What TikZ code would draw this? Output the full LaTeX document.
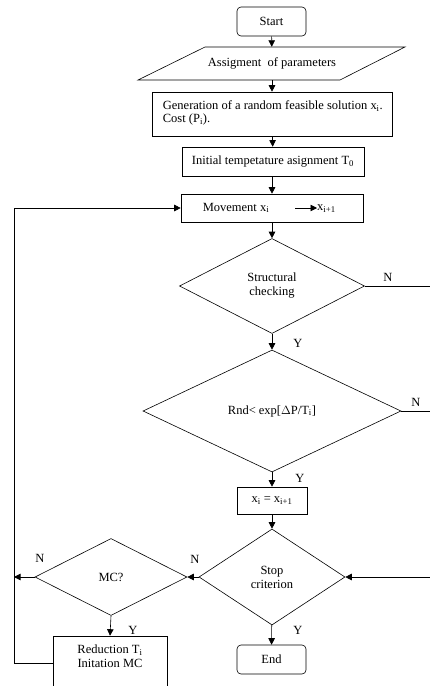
\documentclass[tikz,border=0pt]{standalone}
\usepackage{fontspec}
\setmainfont{Liberation Serif}
\usetikzlibrary{shapes.geometric,arrows.meta}
\begin{document}
\begin{tikzpicture}[x=1pt,y=-1pt,
  every node/.style={font=\fontsize{12.5}{14}\selectfont, inner sep=0pt},
  box/.style={draw, rectangle, line width=0.6pt},
  term/.style={draw, rectangle, rounded corners=4pt, line width=0.6pt, minimum width=69pt, minimum height=29pt},
  dec/.style={draw, diamond, aspect=2, line width=0.6pt, align=center, inner sep=0pt},
  arr/.style={-{Triangle[length=6.5pt,width=6.5pt]}, line width=0.6pt},
  ln/.style={line width=0.6pt}]
\useasboundingbox (0,0) rectangle (430,686);

% nodes
\node[term] (start) at (271.5,21.5) {Start};
\node[minimum width=200pt, minimum height=33pt] (assign) at (272,63.5) {Assigment~ of parameters};
\draw[ln] (138,80) -- (205,47) -- (405,47) -- (340,80) -- cycle;

\node[box, minimum width=240pt, minimum height=44pt] (gen) at (272,114) {};
\node[anchor=north west, align=left, font=\fontsize{12.5}{13}\selectfont] (gentxt) at ([xshift=11pt,yshift=-9pt]gen.north west) {Generation of a random feasible solution x\textsubscript{i}.\\Cost (P\textsubscript{i}).};

\node[box, minimum width=182pt, minimum height=29pt] (init) at (273,161.5) {Initial tempetature asignment T\textsubscript{0}};

\node[box, minimum width=182pt, minimum height=28pt] (move) at (272,208) {};
\node (mvtxt) at (236,208) {Movement x\textsubscript{i}};
\coordinate (mvarr) at (295,208);
\node[anchor=west] (mvnext) at (317,209) {x\textsubscript{i+1}};
\draw[arr] (mvarr) -- (mvarr -| mvnext.west);

\node[dec, minimum width=185pt, minimum height=95pt] (d1) at (272,286) {Structural\\checking};
\node[dec, minimum width=258pt, minimum height=122pt] (d2) at (272,411) {Rnd< exp[$\Delta$P/T\textsubscript{i}]};
\node[box, minimum width=70pt, minimum height=27pt] (upd) at (272,500.5) {x\textsubscript{i} = x\textsubscript{i+1}};
\node[dec, minimum width=146pt, minimum height=96pt] (stop) at (272,577) {Stop\\criterion};
\node[dec, minimum width=152pt, minimum height=77pt] (mc) at (111,577) {MC?};
\node[box, minimum width=114pt, minimum height=54pt] (red) at (110,663) {};
\node[align=center, font=\fontsize{12.5}{14}\selectfont] (redtxt) at (110,656) {Reduction T\textsubscript{i}\\Initation MC};
\node[term] (end) at (271.5,659.5) {End};

% labels
\node (n1) at (388,277) {N};
\node (y1) at (298,343) {Y};
\node (n2) at (416,402) {N};
\node (y2) at (300,478) {Y};
\node (n3) at (195,559) {N};
\node (n4) at (40,558) {N};
\node (y3) at (133,630) {Y};
\node (y4) at (298,630) {Y};

% edge coordinates
\coordinate (r1) at (430,286);
\coordinate (r2) at (430,411);
\coordinate (r3) at (430,577);
\coordinate (lx) at (14,208);

% connectors
\draw[arr] (start) -- (assign);
\draw[arr] (assign) -- (gen);
\draw[arr] (gen) -- (init);
\draw[arr] (init.south -| move.north) -- (move);
\draw[arr] (move) -- (d1);
\draw[arr] (d1) -- (d2);
\draw[arr] (d2) -- (upd);
\draw[arr] (upd) -- (stop);
\draw[arr] (stop) -- (end);
\draw[ln] (d1.east) -- (r1);
\draw[ln] (d2.east) -- (r2);
\draw[arr] (r3) -- (stop.east);
\draw[arr] (stop.west) -- (mc.east);
\draw[arr] (mc.west) -- (mc.west -| lx);
\draw[arr] (mc.south) -- (red.north);
\draw[arr] (red.west) -| (lx) -- (move.west);
\end{tikzpicture}
\end{document}
